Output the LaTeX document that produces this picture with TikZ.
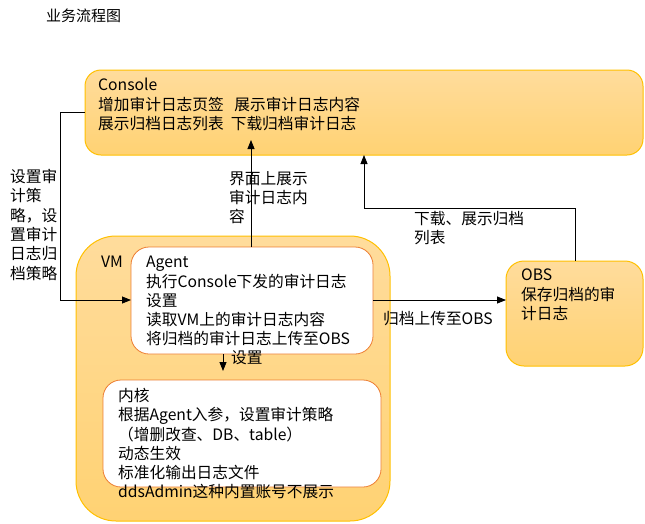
\documentclass[tikz,border=0pt]{standalone}
\usepackage{fontspec}
\setmainfont{Noto Sans CJK SC}
\usetikzlibrary{arrows.meta}
\definecolor{boxfilltop}{HTML}{FFDC9C}
\definecolor{boxfillbot}{HTML}{FFD273}
\definecolor{boxborder}{HTML}{FFC000}
\definecolor{innerborder}{HTML}{ED7D31}
\tikzset{
  x=1pt,y=-1pt,
  outerbox/.style={draw=boxborder, line width=1pt, top color=boxfilltop, bottom color=boxfillbot, rounded corners=#1},
  outerbox/.default=16pt,
  innerbox/.style={draw=innerborder, line width=0.8pt, fill=white, rounded corners=18pt},
  txt/.style={font=\fontsize{15.7}{19.3}\selectfont, align=left, anchor=north west, inner sep=0pt},
  conn/.style={draw=black, line width=0.8pt},
  arr/.style={conn, -{Triangle[length=9pt,width=7pt]}},
}
\begin{document}
\begin{tikzpicture}
\useasboundingbox (0,0) rectangle (645,523);
% title
\node[txt, font=\fontsize{15}{18}\selectfont] (title) at (46,9) {业务流程图};
% boxes
\path[outerbox] (85,70) rectangle (643,155);
\coordinate (consoleW) at (85,112);
\coordinate (consoleS1) at (251,140);
\coordinate (consoleS2) at (364,155);
\node[txt] (consoletxt) at (98,78) {Console\\增加审计日志页签\ \ \ 展示审计日志内容\\展示归档日志列表\ \ 下载归档审计日志};

\path[outerbox=40pt] (76,236) rectangle (390,521);
\node[txt] (vmtxt) at (101,256) {VM};

\path[innerbox] (131,247) rectangle (373,354);
\coordinate (agentW) at (131,300);
\coordinate (agentE) at (373,300);
\coordinate (agentN) at (251,247);
\coordinate (agentS) at (223,354);
\node[txt] (agenttxt) at (146,256) {Agent\\执行Console下发的审计日志\\设置\\读取VM上的审计日志内容\\将归档的审计日志上传至OBS};

\path[outerbox=18pt] (506,261) rectangle (643,366);
\coordinate (obsW) at (506,300);
\coordinate (obsN) at (575,261);
\node[txt] (obstxt) at (521,269) {OBS\\保存归档的审\\计日志};

\path[innerbox] (103,380) rectangle (381,487);
\coordinate (kernelN) at (223,371);
\node[txt] (kerneltxt) at (118,388) {内核\\根据Agent入参，设置审计策略\\（增删改查、DB、table）\\动态生效\\标准化输出日志文件\\ddsAdmin这种内置账号不展示};

% connectors
\draw[arr] (consoleW) -- (60,112) -- (60,300) -- (agentW);
\node[txt] (lbl1) at (10,169) {设置审\\计策\\略，设\\置审计\\日志归\\档策略};

\draw[arr] (agentN) -- (consoleS1);
\node[txt] (lbl2) at (229,171) {界面上展示\\审计日志内\\容};

\draw[arr] (obsN) -- (575,208) -- (364,208) -- (consoleS2);
\node[txt] (lbl3) at (414,211) {下载、展示归档\\列表};

\draw[arr] (agentE) -- (obsW);
\node[txt] (lbl4) at (383,311) {归档上传至OBS};

\draw[arr] (agentS) -- (kernelN);
\node[txt] (lbl5) at (231,350) {设置};
\end{tikzpicture}
\end{document}
